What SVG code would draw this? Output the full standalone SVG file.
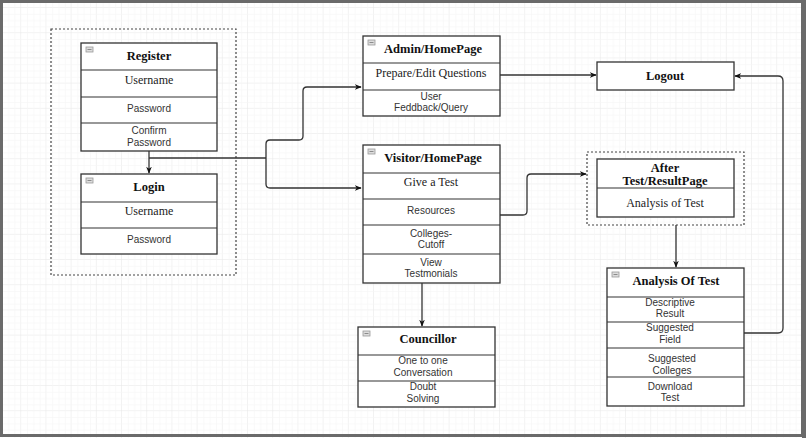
<svg xmlns="http://www.w3.org/2000/svg" width="806" height="438" viewBox="0 0 806 438">
<defs>
<pattern id="grid" x="-4" y="8" width="25.2" height="25.2" patternUnits="userSpaceOnUse">
<path d="M25.2 0V25.2M0 25.2H25.2" fill="none" stroke="#e6e6e6" stroke-width="1"/>
<path d="M6.3 0V25.2M12.6 0V25.2M18.9 0V25.2M0 6.3H25.2M0 12.6H25.2M0 18.9H25.2" fill="none" stroke="#f5f5f5" stroke-width="0.6"/>
</pattern>
<marker id="arr" viewBox="0 0 10 10" refX="9" refY="5" markerWidth="7" markerHeight="7" orient="auto" markerUnits="userSpaceOnUse">
<path d="M0 1L10 5L0 9L3 5Z" fill="#111"/>
</marker>
</defs>
<style>
.box{fill:#fff;stroke:#333;stroke-width:1.3}
.ln{stroke:#333;stroke-width:1.2;fill:none}
.dash{fill:none;stroke:#444;stroke-width:1.2;stroke-dasharray:2 2}
.h{font-family:"Liberation Serif","Times New Roman",serif;font-weight:bold;font-size:12.5px;fill:#111;text-anchor:middle}
.s{font-family:"Liberation Serif","Times New Roman",serif;font-size:12px;fill:#222;text-anchor:middle}
.a{font-family:"Liberation Sans",Arial,sans-serif;font-size:10px;fill:#333;text-anchor:middle}
.ic{fill:#ddd;stroke:#999;stroke-width:0.8}
.c{fill:none;stroke:#333;stroke-width:1.3}
</style>
<rect x="0" y="0" width="806" height="438" fill="#fff"/>
<rect x="0" y="0" width="806" height="438" fill="url(#grid)"/>
<rect x="1.5" y="1.5" width="801" height="434" fill="none" stroke="#6a6a6a" stroke-width="3"/>
<rect x="802" y="0" width="4" height="438" fill="#6a6a6a"/>

<g id="container-auth"><rect class="dash" x="51" y="29" width="185" height="246"/></g>

<g id="register">
<rect class="box" x="81" y="43" width="136" height="108"/>
<line class="ln" x1="81" y1="70" x2="217" y2="70"/>
<line class="ln" x1="81" y1="97" x2="217" y2="97"/>
<line class="ln" x1="81" y1="123" x2="217" y2="123"/>
<rect class="ic" x="86" y="47" width="7" height="5"/><line x1="87.5" y1="49.5" x2="91.5" y2="49.5" stroke="#777" stroke-width="0.8"/>
<text class="h" x="149" y="60">Register</text>
<text class="s" x="149" y="84">Username</text>
<text class="a" x="149" y="112">Password</text>
<text class="a" x="149" y="134">Confirm</text>
<text class="a" x="149" y="145.5">Password</text>
</g>

<g id="login">
<rect class="box" x="81" y="174" width="136" height="80"/>
<line class="ln" x1="81" y1="202" x2="217" y2="202"/>
<line class="ln" x1="81" y1="228" x2="217" y2="228"/>
<rect class="ic" x="86" y="178" width="7" height="5"/><line x1="87.5" y1="180.5" x2="91.5" y2="180.5" stroke="#777" stroke-width="0.8"/>
<text class="h" x="149" y="191">Login</text>
<text class="s" x="149" y="215">Username</text>
<text class="a" x="149" y="243">Password</text>
</g>

<g id="admin">
<rect class="box" x="363" y="36" width="137" height="80"/>
<line class="ln" x1="363" y1="63" x2="500" y2="63"/>
<line class="ln" x1="363" y1="90" x2="500" y2="90"/>
<rect class="ic" x="368" y="40" width="7" height="5"/><line x1="369.5" y1="42.5" x2="373.5" y2="42.5" stroke="#777" stroke-width="0.8"/>
<text class="h" x="433" y="53">Admin/HomePage</text>
<text class="s" x="431" y="77">Prepare/Edit Questions</text>
<text class="a" x="431" y="99.5">User</text>
<text class="a" x="431" y="111">Feddback/Query</text>
</g>

<g id="logout">
<rect class="box" x="597" y="62" width="137" height="28"/>
<text class="h" x="665" y="80">Logout</text>
</g>

<g id="visitor">
<rect class="box" x="363" y="145" width="137" height="138"/>
<line class="ln" x1="363" y1="173" x2="500" y2="173"/>
<line class="ln" x1="363" y1="199" x2="500" y2="199"/>
<line class="ln" x1="363" y1="225" x2="500" y2="225"/>
<line class="ln" x1="363" y1="254" x2="500" y2="254"/>
<rect class="ic" x="368" y="149" width="7" height="5"/><line x1="369.5" y1="151.5" x2="373.5" y2="151.5" stroke="#777" stroke-width="0.8"/>
<text class="h" x="433" y="162">Visitor/HomePage</text>
<text class="s" x="431" y="186">Give a Test</text>
<text class="a" x="431" y="214">Resources</text>
<text class="a" x="431" y="236.5">Colleges-</text>
<text class="a" x="431" y="248">Cutoff</text>
<text class="a" x="431" y="265.5">View</text>
<text class="a" x="431" y="277">Testmonials</text>
</g>

<g id="after-test">
<rect class="dash" x="587" y="152" width="157" height="73"/>
<rect class="box" x="597" y="159" width="137" height="58"/>
<line class="ln" x1="597" y1="188" x2="734" y2="188"/>
<text class="h" x="665" y="172">After</text>
<text class="h" x="665" y="184.5">Test/ResultPage</text>
<text class="s" x="665" y="207">Analysis of Test</text>
</g>

<g id="analysis">
<rect class="box" x="607" y="268" width="137" height="138"/>
<line class="ln" x1="607" y1="297" x2="744" y2="297"/>
<line class="ln" x1="607" y1="322" x2="744" y2="322"/>
<line class="ln" x1="607" y1="348" x2="744" y2="348"/>
<line class="ln" x1="607" y1="377" x2="744" y2="377"/>
<rect class="ic" x="612" y="272" width="7" height="5"/><line x1="613.5" y1="274.5" x2="617.5" y2="274.5" stroke="#777" stroke-width="0.8"/>
<text class="h" x="676" y="285">Analysis Of Test</text>
<text class="a" x="670" y="305.5">Descriptive</text>
<text class="a" x="670" y="317">Result</text>
<text class="a" x="670" y="331">Suggested</text>
<text class="a" x="670" y="342.5">Field</text>
<text class="a" x="672" y="362">Suggested</text>
<text class="a" x="672" y="373.5">Colleges</text>
<text class="a" x="670" y="389.5">Download</text>
<text class="a" x="670" y="401">Test</text>
</g>

<g id="councillor">
<rect class="box" x="358" y="327" width="137" height="80"/>
<line class="ln" x1="358" y1="355" x2="495" y2="355"/>
<line class="ln" x1="358" y1="381" x2="495" y2="381"/>
<rect class="ic" x="363" y="331" width="7" height="5"/><line x1="364.5" y1="333.5" x2="368.5" y2="333.5" stroke="#777" stroke-width="0.8"/>
<text class="h" x="428" y="343">Councillor</text>
<text class="a" x="423" y="364">One to one</text>
<text class="a" x="423" y="375.5">Conversation</text>
<text class="a" x="423" y="390">Doubt</text>
<text class="a" x="423" y="401.5">Solving</text>
</g>

<g id="connectors">
<path class="c" d="M149 151V173" marker-end="url(#arr)"/>
<path class="c" d="M149 158H266"/>
<path class="c" d="M266 158V144Q266 140 270 140H299Q303 140 303 136V91Q303 87 307 87H361" marker-end="url(#arr)"/>
<path class="c" d="M266 158V184Q266 188 270 188H361" marker-end="url(#arr)"/>
<path class="c" d="M500 75H596" marker-end="url(#arr)"/>
<path class="c" d="M500 215H523Q527 215 527 211V178Q527 174 531 174H586" marker-end="url(#arr)"/>
<path class="c" d="M676 225V267" marker-end="url(#arr)"/>
<path class="c" d="M422 283V326" marker-end="url(#arr)"/>
<path class="c" d="M744 333H778Q783 333 783 328V81Q783 76 778 76H735" marker-end="url(#arr)"/>
</g>
</svg>
